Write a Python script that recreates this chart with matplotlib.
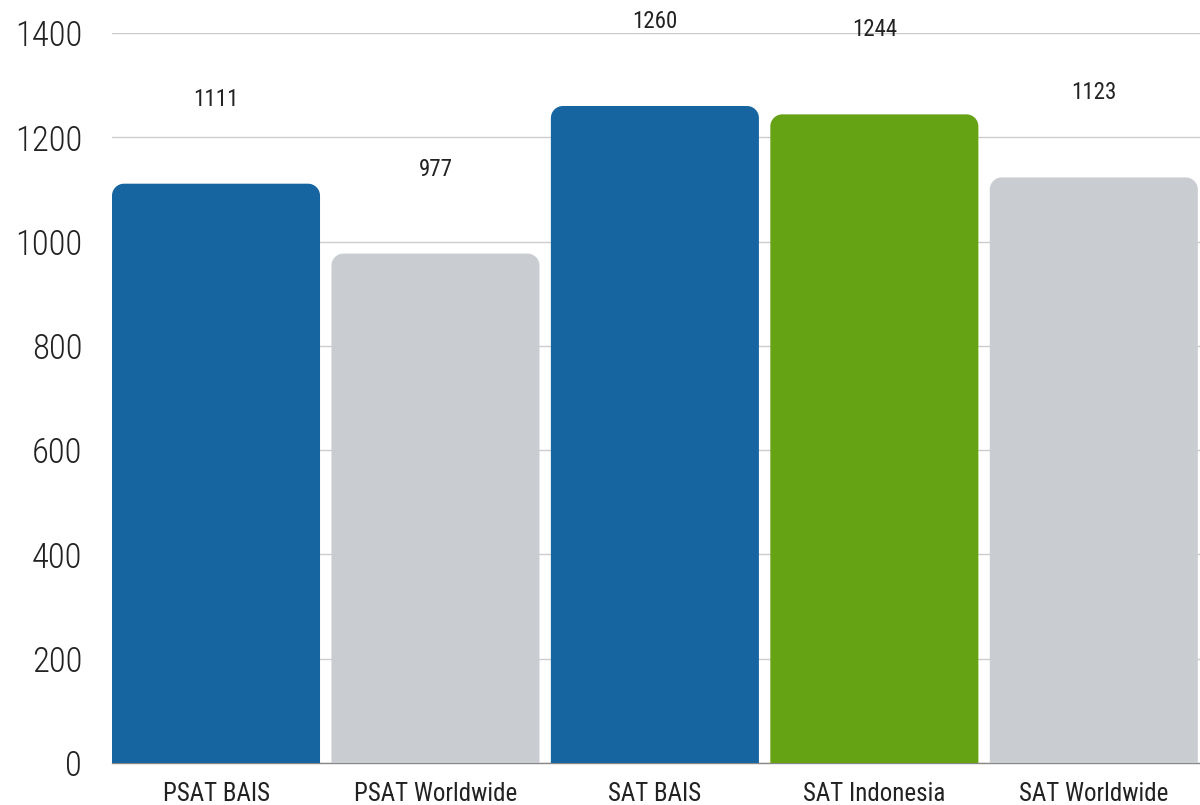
import matplotlib
matplotlib.use("Agg")
import matplotlib.pyplot as plt
from matplotlib import font_manager
from matplotlib.path import Path
from matplotlib.patches import PathPatch

categories = ["PSAT BAIS", "PSAT Worldwide", "SAT BAIS", "SAT Indonesia", "SAT Worldwide"]
scores = [1111, 977, 1260, 1244, 1123]
colors = ["#1665a1", "#c9ccd1", "#1665a1", "#65a315", "#c9ccd1"]
yticks = [0, 200, 400, 600, 800, 1000, 1200, 1400]

names = {f.name for f in font_manager.fontManager.ttflist}
fam = "Roboto Condensed" if "Roboto Condensed" in names else "Roboto"
plt.rcParams['font.family'] = [fam, 'DejaVu Sans']

fig = plt.figure(figsize=(12, 8.05), dpi=100)
ax = fig.add_axes([112 / 1200, 42 / 805, 1088 / 1200, 730 / 805])

w = 0.948
bars = ax.bar(range(len(scores)), scores, width=w, color=colors, zorder=3)

ax.set_xlim(-w / 2, len(scores) - 1 + w / 2 + 0.01)
ax.set_ylim(0, 1400)

# rounded top corners, radius in pixels
r_px = 12
fig.canvas.draw()
px_x = ax.transData.transform((1, 0))[0] - ax.transData.transform((0, 0))[0]
px_y = ax.transData.transform((0, 1))[1] - ax.transData.transform((0, 0))[1]
rx = r_px / px_x
ry = r_px / px_y
k = 0.5523
for b in bars:
    x0 = b.get_x()
    x1 = x0 + b.get_width()
    h = b.get_height()
    verts = [(x0, 0), (x0, h - ry),
             (x0, h - ry + k * ry), (x0 + rx - k * rx, h), (x0 + rx, h),
             (x1 - rx, h),
             (x1 - rx + k * rx, h), (x1, h - ry + k * ry), (x1, h - ry),
             (x1, 0), (x0, 0)]
    codes = [Path.MOVETO, Path.LINETO,
             Path.CURVE4, Path.CURVE4, Path.CURVE4,
             Path.LINETO,
             Path.CURVE4, Path.CURVE4, Path.CURVE4,
             Path.LINETO, Path.CLOSEPOLY]
    ax.add_patch(PathPatch(Path(verts, codes), facecolor=b.get_facecolor(),
                           edgecolor='none', zorder=3))
    b.set_visible(False)

for i, v in enumerate(scores):
    ax.text(i, v + 162, str(v), ha='center', va='center', fontsize=16.5, color='#222222')

ax.set_yticks(yticks)
ax.set_yticklabels([str(t) for t in yticks], fontsize=25, color='#222222', fontweight='light')
ax.set_xticks(range(len(categories)))
ax.set_xticklabels(categories, fontsize=18, color='#222222')
ax.tick_params(axis='y', length=0, pad=21.5)
ax.tick_params(axis='x', length=0, pad=14)

ax.grid(axis='y', color='#cccccc', linewidth=1, zorder=0)
for s in ['top', 'right', 'left']:
    ax.spines[s].set_visible(False)
ax.spines['bottom'].set_color('#888888')
ax.spines['bottom'].set_linewidth(1)

fig.savefig("out.png", dpi=100)
